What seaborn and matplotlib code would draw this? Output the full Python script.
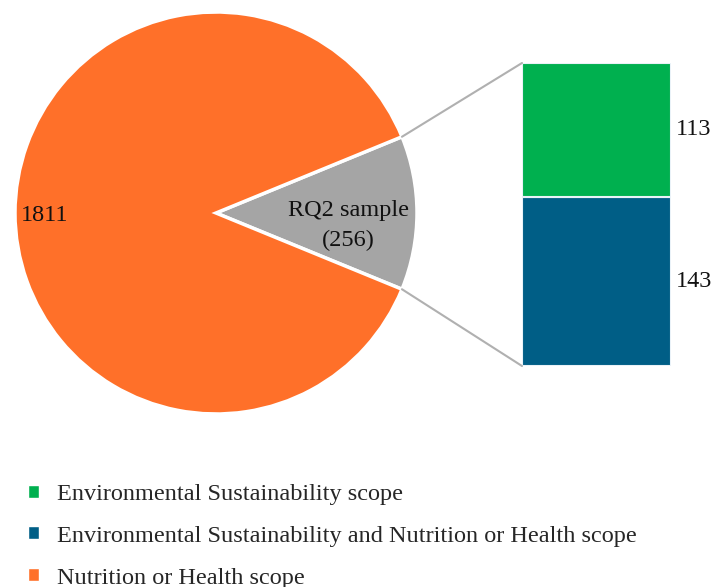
import numpy as np
import matplotlib
matplotlib.use("Agg")
import matplotlib.pyplot as plt
from matplotlib.patches import ConnectionPatch, Patch
import seaborn as sns

# ---- data ----
pie_labels = ["RQ2 sample", "Nutrition or Health scope"]
pie_values = [256, 1811]
bar_labels = ["Environmental Sustainability and Nutrition or Health scope",
              "Environmental Sustainability scope"]
bar_values = [143, 113]          # bottom to top
legend_labels = ["Environmental Sustainability scope",
                 "Environmental Sustainability and Nutrition or Health scope",
                 "Nutrition or Health scope"]

c_orange = "#FF7029"
c_grey = "#A5A5A5"
c_green = "#00B04F"
c_blue = "#005E86"

sns.set_theme(style="white")
plt.rcParams['font.family'] = ['Liberation Serif', 'DejaVu Serif']
FS = 17.5

W, H = 720, 587
fig = plt.figure(figsize=(W / 100, H / 100), dpi=100)

# pie axes: centre (216,213) px, radius 201 px
cx, cy, r = 216, 213, 201
ax = fig.add_axes([(cx - r) / W, (H - cy - r) / H, 2 * r / W, 2 * r / H])
half = pie_values[0] / sum(pie_values) * 180
ax.pie(pie_values, startangle=-half, colors=[c_grey, c_orange], radius=1,
       wedgeprops=dict(edgecolor="white", linewidth=2.5))
ax.set_xlim(-1, 1)
ax.set_ylim(-1, 1)
ax.set_aspect("equal")
ax.axis("off")

ax.text(0.66, -0.06, f"{pie_labels[0]}\n({pie_values[0]})", ha="center", va="center",
        fontsize=FS, linespacing=1.55, color="#111111")
ax.text(-0.97, -0.01, f"{pie_values[1]}", ha="left", va="center", fontsize=FS, color="#111111")

# bar axes
bx0, by0, bw, bh = 522, 63, 149, 303
bax = fig.add_axes([bx0 / W, (H - by0 - bh) / H, bw / W, bh / H])
bottom = 0
bar_colors = [c_blue, c_green]
for v, col in zip(bar_values, bar_colors):
    bax.bar(0, v, width=1, bottom=bottom, color=col, edgecolor="#EAF2F8", linewidth=1.5)
    bax.text(0.53, bottom + v / 2, f"{v}", ha="left", va="center", fontsize=FS, color="#111111")
    bottom += v
bax.set_xlim(-0.5, 0.5)
bax.set_ylim(0, sum(bar_values))
bax.axis("off")

# connection lines
ang = np.deg2rad(half)
for sgn, yb in [(1, sum(bar_values)), (-1, 0)]:
    con = ConnectionPatch(xyA=(np.cos(ang), sgn * np.sin(ang)), coordsA=ax.transData,
                          xyB=(-0.5, yb), coordsB=bax.transData,
                          color="#B0B0B0", linewidth=1.5)
    fig.add_artist(con)

# legend
handles = [Patch(facecolor=c_green), Patch(facecolor=c_blue), Patch(facecolor=c_orange)]
fig.legend(handles, legend_labels, loc="upper left", bbox_to_anchor=(18 / W, 1 - 474 / H),
           frameon=False, fontsize=FS, handlelength=0.45, handleheight=0.45,
           handletextpad=0.75, labelspacing=0.86, borderaxespad=0)

fig.savefig("out.png", dpi=100)
